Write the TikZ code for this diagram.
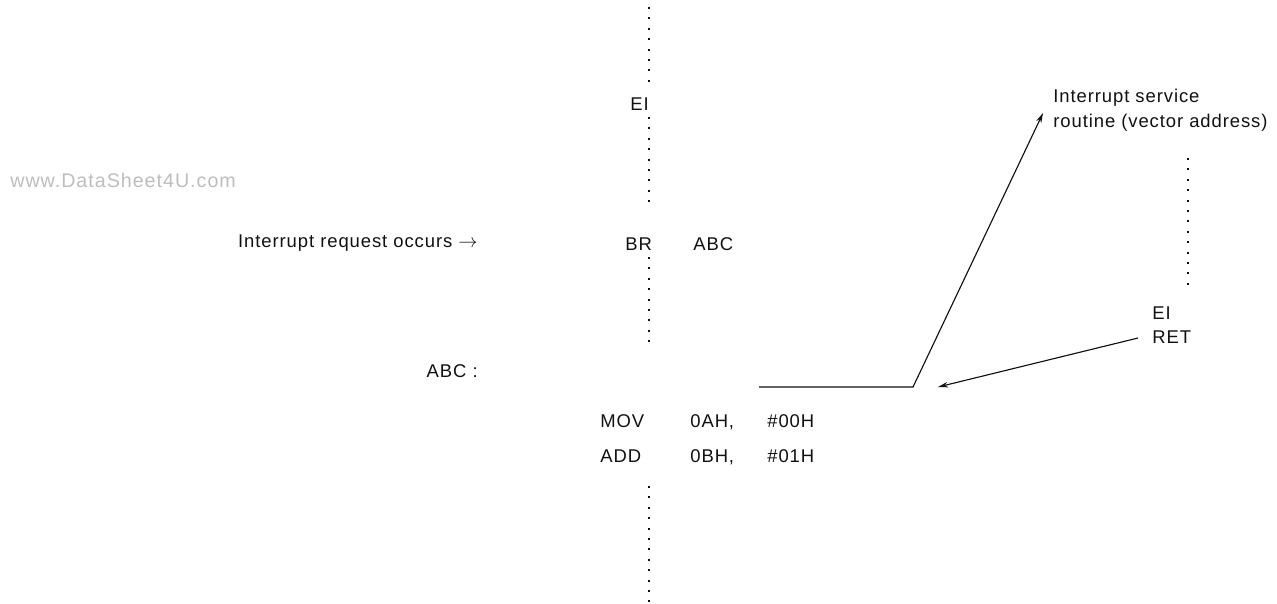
\documentclass[tikz,border=0pt]{standalone}
\usepackage{fontspec}
\setmainfont[LetterSpace=5]{Liberation Sans}
\usetikzlibrary{arrows.meta}
\definecolor{ink}{HTML}{111111}
\definecolor{mark}{HTML}{BDBDBD}
\tikzset{code/.style={anchor=base west,inner sep=0pt,text=ink,
  font=\fontsize{10.5}{14}\selectfont},
  dotrun/.style={draw=ink,line width=0.04cm,dash pattern=on 0.04cm off 0.168cm},
  arrow/.style={-{Stealth[length=2mm,width=1.1mm]},line width=0.65pt,draw=ink}}

\begin{document}
\begin{tikzpicture}[x=0.02cm,y=-0.02cm]
\useasboundingbox (0,0) rectangle (1277,603);
\node[anchor=base west,inner sep=0pt,text=mark,font=\fontsize{11.2}{14}\selectfont]
  (wm) at (10,187) {www.DataSheet4U.com};
% main program
\node[code] (ei) at (630,110) {EI};
\node[code] (br) at (625,250) {BR};
\node[code] (brdest) at (693,250) {ABC};
\node[code,anchor=base east] (irq) at (478,247) {Interrupt request occurs $\rightarrow$};
\node[code,anchor=base east] (abc) at (478,377) {ABC :};
\foreach \row/\op/\dst/\src in {427/MOV/0AH/\#00H,462/ADD/0BH/\#01H}{
  \node[code] (op\row) at (600,\row) {\op};
  \node[code] (dst\row) at (690,\row) {\dst,};
  \node[code] (src\row) at (767,\row) {\src};
}
\foreach \x/\top/\bot in {649/7/84,649/117/204,649/257/344,649/486/604,1188/158/287}
  \draw[dotrun] (\x,\top) -- (\x,\bot);
% service routine
\node[code,anchor=north west,align=left] (isr) at (1053,89)
  {Interrupt service\\routine (vector address)};
\node[code,anchor=north west,align=left] (ret) at (1152,306) {EI\\RET};
\coordinate (jmp) at (759,387);
\coordinate (bend) at (913,387);
\coordinate (isrin) at (1043,113);
\coordinate (retout) at (1138,338);
\coordinate (retin) at (938,387);
\draw[arrow] (jmp) -- (bend) -- (isrin);
\draw[arrow] (retout) -- (retin);
\end{tikzpicture}
\end{document}
